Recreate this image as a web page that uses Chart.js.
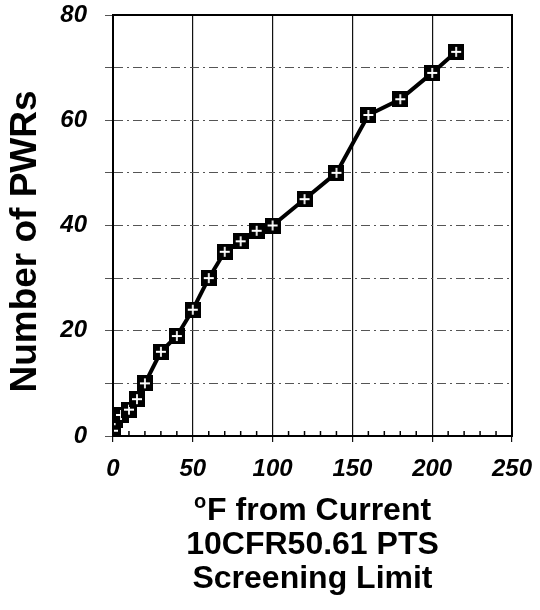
<!DOCTYPE html>
<html>
<head>
<meta charset="utf-8">
<script src="https://cdn.jsdelivr.net/npm/chart.js@4.4.1/dist/chart.umd.min.js"></script>
<style>
  html, body { margin: 0; padding: 0; background: #fff; }
  #wrap { width: 540px; height: 610px; }
</style>
</head>
<body>
<div id="wrap"><canvas id="chart" width="540" height="610"></canvas></div>
<script>
// Degrees F from the screening limit vs. cumulative number of PWRs
const degreesF = [0, 1, 5, 10, 15, 20, 30, 40, 50, 60, 70, 80, 90, 100, 120, 140, 160, 180, 200, 215];
const pwrCount = [1, 3, 4, 5, 7, 10, 16, 19, 24, 30, 35, 37, 39, 40, 45, 50, 61, 64, 69, 73];
const xTitleLines = ['F from Current', '10CFR50.61 PTS', 'Screening Limit'];
const yTitle = 'Number of PWRs';

const FONT = "'Liberation Sans', Arial, sans-serif";

// black square with a white cross, like the original markers
function makeMarker(size) {
  const c = document.createElement('canvas');
  c.width = size; c.height = size;
  const g = c.getContext('2d');
  g.fillStyle = '#000';
  g.fillRect(0, 0, size, size);
  g.strokeStyle = '#fff';
  g.lineWidth = 1.8;
  g.beginPath();
  g.moveTo(size / 2, 3); g.lineTo(size / 2, size - 3);
  g.moveTo(3, size / 2); g.lineTo(size - 3, size / 2);
  g.stroke();
  return c;
}

// frame, minor ticks on the bottom axis, and the axis titles
const framePlugin = {
  id: 'frame',
  afterDatasetsDraw(chart) {
    const { ctx, chartArea: a, scales } = chart;
    ctx.save();
    ctx.strokeStyle = '#000';
    ctx.lineWidth = 1.5;
    for (let v = 10; v < 250; v += 10) {
      if (v % 50 === 0) continue;
      const px = scales.x.getPixelForValue(v);
      ctx.beginPath();
      ctx.moveTo(px, a.bottom);
      ctx.lineTo(px, a.bottom - 5);
      ctx.stroke();
    }
    ctx.lineWidth = 2;
    ctx.strokeRect(a.left, a.top, a.right - a.left, a.bottom - a.top);

    // y title
    ctx.fillStyle = '#000';
    ctx.font = 'bold 37px ' + FONT;
    ctx.textAlign = 'center';
    ctx.textBaseline = 'middle';
    ctx.translate(26, (a.top + a.bottom) / 2 + 16);
    ctx.rotate(-Math.PI / 2);
    ctx.fillText(yTitle, 0, 0);
    ctx.setTransform(1, 0, 0, 1, 0, 0);

    // x title, first line with a superscript "o"
    const cx = (a.left + a.right) / 2;
    ctx.font = 'bold 32px ' + FONT;
    const w0 = ctx.measureText(xTitleLines[0]).width;
    ctx.font = 'bold 20px ' + FONT;
    const wo = ctx.measureText('o').width;
    const start = cx - (w0 + wo + 1) / 2;
    ctx.textAlign = 'left';
    ctx.fillText('o', start, a.bottom + 66);
    ctx.font = 'bold 32px ' + FONT;
    ctx.fillText(xTitleLines[0], start + wo + 1, a.bottom + 75);
    ctx.textAlign = 'center';
    ctx.fillText(xTitleLines[1], cx, a.bottom + 109);
    ctx.fillText(xTitleLines[2], cx, a.bottom + 143);
    ctx.restore();
  }
};

document.addEventListener('DOMContentLoaded', () => {
  const points = degreesF.map((x, i) => ({ x: x, y: pwrCount[i] }));
  const marker = makeMarker(16);

  new Chart(document.getElementById('chart').getContext('2d'), {
    type: 'scatter',
    data: {
      datasets: [{
        data: points,
        showLine: true,
        borderColor: '#000',
        borderWidth: 4,
        pointStyle: marker,
        pointRadius: 8,
        pointHoverRadius: 8
      }]
    },
    options: {
      responsive: false,
      animation: false,
      layout: { padding: { top: 15, right: 28, left: 0, bottom: 0 } },
      plugins: { legend: { display: false }, tooltip: { enabled: false } },
      scales: {
        x: {
          type: 'linear',
          min: 0,
          max: 250,
          afterFit: s => { s.height = 174; s.paddingLeft = 0; s.paddingRight = 0; },
          ticks: {
            stepSize: 50,
            color: '#000',
            padding: 13,
            font: { family: FONT, size: 24, weight: 'bold', style: 'italic' }
          },
          grid: { color: '#111', lineWidth: 1.2, tickLength: 6 },
          border: { color: '#000', width: 2 }
        },
        y: {
          min: 0,
          max: 80,
          afterFit: s => { s.width = 113; s.paddingTop = 0; s.paddingBottom = 0; },
          ticks: {
            stepSize: 10,
            color: '#000',
            padding: 18,
            callback: v => (v % 20 === 0 ? v : ''),
            font: { family: FONT, size: 24, weight: 'bold', style: 'italic' }
          },
          grid: { color: '#555', lineWidth: 1, tickLength: 8 },
          border: { color: '#000', width: 2, dash: [9, 4, 2, 4] }
        }
      }
    },
    plugins: [framePlugin]
  });
});
</script>
</body>
</html>
